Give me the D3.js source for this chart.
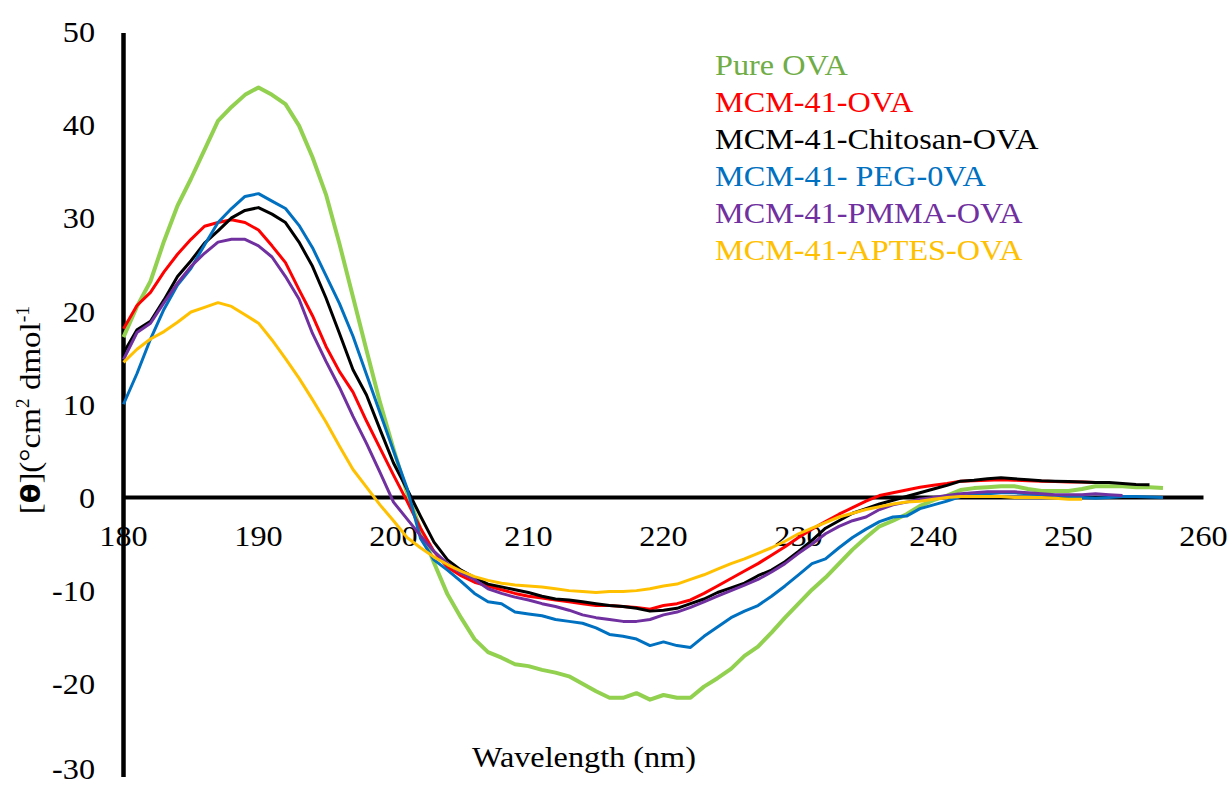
<!DOCTYPE html>
<html>
<head>
<meta charset="utf-8">
<script src="https://d3js.org/d3.v7.min.js"></script>
<style>
  body { margin: 0; background: #fff; }
  text { font-family: "Liberation Serif", "Times New Roman", serif; }
</style>
</head>
<body>
<div id="vis"></div>
<script>
var width = 1232,
    height = 787;

// wavelength in nm, 1 nm steps
var wavelengths = d3.range(180, 258);

var seriesNames = ["Pure OVA", "MCM-41-OVA", "MCM-41-Chitosan-OVA", "MCM-41- PEG-0VA", "MCM-41-PMMA-OVA", "MCM-41-APTES-OVA"];

var pureOVA = [17.2, 20.5, 23.2, 27.5, 31.3, 34.2, 37.3, 40.4, 41.9, 43.2, 44.0, 43.2, 42.2, 39.9, 36.5, 32.5, 27.2, 21.5, 15.8, 10.2,
  5.2, 0.5, -3.4, -7.0, -10.4, -12.9, -15.2, -16.6, -17.2, -17.9, -18.1, -18.5, -18.8, -19.2, -20.0, -20.8, -21.5, -21.5, -21.0, -21.7,
  -21.2, -21.5, -21.5, -20.3, -19.4, -18.4, -17.0, -16.0, -14.5, -12.9, -11.4, -9.9, -8.6, -7.1, -5.6, -4.3, -3.1, -2.5, -1.8, -0.9,
  -0.3, 0.2, 0.8, 1.0, 1.1, 1.2, 1.2, 0.9, 0.7, 0.7, 0.7, 0.9, 1.2, 1.2, 1.2, 1.1, 1.1, 1.0];

var mcmOVA = [18.1, 20.6, 22.0, 24.2, 26.1, 27.7, 29.1, 29.5, 29.8, 29.5, 28.7, 27.0, 25.2, 22.3, 19.5, 16.2, 13.5, 11.3, 8.2, 5.3,
  2.4, -0.4, -3.3, -5.8, -7.5, -8.4, -9.1, -9.5, -9.9, -10.3, -10.6, -10.8, -11.0, -11.2, -11.4, -11.6, -11.6, -11.7, -11.8, -12.0,
  -11.6, -11.4, -11.0, -10.3, -9.5, -8.7, -7.9, -7.1, -6.2, -5.3, -4.3, -3.4, -2.6, -1.8, -1.1, -0.4, 0.2, 0.5, 0.8, 1.1,
  1.3, 1.5, 1.75, 1.8, 1.85, 1.9, 1.85, 1.8, 1.75, 1.7, 1.65, 1.65, 1.6, 1.6];

var chitosanOVA = [15.5, 18.0, 18.9, 21.2, 23.7, 25.4, 27.3, 28.6, 30.0, 30.8, 31.1, 30.4, 29.5, 27.4, 24.8, 21.4, 17.6, 13.7, 11.0, 7.3,
  3.7, 0.9, -2.0, -4.8, -6.7, -7.8, -8.6, -9.3, -9.6, -9.9, -10.2, -10.6, -10.9, -11.0, -11.2, -11.4, -11.6, -11.7, -11.9, -12.2,
  -12.1, -11.9, -11.4, -10.9, -10.2, -9.7, -9.2, -8.4, -7.8, -6.9, -5.8, -4.6, -3.3, -2.5, -1.7, -1.2, -0.7, -0.3, 0.1, 0.5,
  0.9, 1.3, 1.75, 1.85, 2.0, 2.1, 2.0, 1.9, 1.8, 1.75, 1.7, 1.65, 1.6, 1.6, 1.5, 1.4, 1.35];

var pegOVA = [10.0, 13.3, 17.0, 20.2, 22.8, 24.6, 27.1, 29.5, 31.0, 32.3, 32.6, 31.8, 31.0, 29.2, 26.8, 23.8, 20.8, 17.3, 13.2, 9.1,
  5.0, 1.0, -4.4, -6.7, -7.8, -9.0, -10.3, -11.2, -11.4, -12.3, -12.5, -12.7, -13.1, -13.3, -13.5, -14.0, -14.7, -14.9, -15.2, -15.9,
  -15.5, -15.9, -16.1, -14.9, -13.9, -12.9, -12.2, -11.6, -10.6, -9.5, -8.3, -7.1, -6.6, -5.4, -4.3, -3.4, -2.6, -2.1, -2.0, -1.2,
  -0.8, -0.4, 0.1, 0.3, 0.4, 0.5, 0.5, 0.4, 0.3, 0.2, 0.1, 0.0, -0.1, 0.0, 0.1, 0.1, 0.05, 0.0];

var pmmaOVA = [14.8, 17.7, 18.7, 20.9, 23.0, 24.8, 26.2, 27.4, 27.7, 27.7, 27.0, 25.8, 23.7, 21.3, 17.6, 14.6, 11.8, 8.7, 5.8, 2.7,
  -0.5, -2.3, -4.1, -5.8, -7.1, -8.1, -8.8, -9.8, -10.3, -10.7, -11.0, -11.4, -11.7, -12.1, -12.6, -12.9, -13.1, -13.3, -13.3, -13.1,
  -12.6, -12.3, -11.8, -11.2, -10.6, -10.0, -9.4, -8.8, -8.0, -7.1, -6.0, -5.0, -3.9, -3.1, -2.5, -2.1, -1.3, -0.8, -0.5, -0.2,
  0.0, 0.2, 0.4, 0.5, 0.6, 0.6, 0.6, 0.5, 0.4, 0.3, 0.3, 0.3, 0.4, 0.3, 0.2];

var aptesOVA = [14.5, 15.9, 17.0, 17.8, 18.8, 19.9, 20.4, 20.9, 20.5, 19.6, 18.7, 16.9, 14.9, 12.8, 10.5, 8.1, 5.5, 3.0, 1.1, -0.8,
  -2.5, -4.3, -5.4, -6.4, -7.2, -7.9, -8.5, -8.9, -9.2, -9.4, -9.5, -9.6, -9.8, -10.0, -10.1, -10.2, -10.1, -10.1, -10.0, -9.8,
  -9.5, -9.3, -8.8, -8.3, -7.7, -7.1, -6.6, -6.0, -5.4, -4.7, -3.9, -3.3, -2.7, -2.1, -1.7, -1.3, -1.0, -0.7, -0.5, -0.4,
  -0.2, 0.0, 0.1, 0.1, 0.1, 0.1, 0.0, 0.0, 0.0, -0.1, -0.2, -0.2];

var lineColors = ["#92D050", "#FF0000", "#000000", "#0070C0", "#7030A0", "#FFC000"];
var textColors = ["#70AD47", "#FF0000", "#000000", "#0070C0", "#7030A0", "#FFC000"];

var xTicks = [180, 190, 200, 210, 220, 230, 240, 250, 260];
var yTicks = [-30, -20, -10, 0, 10, 20, 30, 40, 50];

var allSeries = [pureOVA, mcmOVA, chitosanOVA, pegOVA, pmmaOVA, aptesOVA];

// the text in the original looks a bit wider than plain Times
var stretch = 1.075;

var svg = d3.select("#vis").append("svg")
    .attr("width", width)
    .attr("height", height);

var x = d3.scaleLinear().domain([180, 260]).range([123.5, 1203.5]);
var y = d3.scaleLinear().domain([-30, 50]).range([777, 31.5]);

//----------AXES---------//
svg.append("line")
    .attr("x1", x(180)).attr("x2", x(180))
    .attr("y1", y(-30)).attr("y2", y(50) + 1.5)
    .style("stroke", "black")
    .style("stroke-width", 4.5);

svg.append("line")
    .attr("x1", x(180)).attr("x2", x(260))
    .attr("y1", y(0)).attr("y2", y(0))
    .style("stroke", "black")
    .style("stroke-width", 4);

// bottom label sits right at the edge, keep it inside
svg.selectAll(".ylab")
    .data(yTicks)
    .enter()
    .append("text")
    .attr("class", "ylab")
    .attr("transform", function(d) {
        return "translate(95," + Math.min(y(d) + 10.5, 779) + ") scale(" + stretch + ",1)";
    })
    .style("text-anchor", "end")
    .style("font-size", "30px")
    .text(function(d) { return d; });

svg.selectAll(".xlab")
    .data(xTicks)
    .enter()
    .append("text")
    .attr("class", "xlab")
    .attr("transform", function(d) { return "translate(" + x(d) + ",546) scale(" + stretch + ",1)"; })
    .style("text-anchor", "middle")
    .style("font-size", "30px")
    .text(function(d) { return d; });

svg.append("text")
    .attr("transform", "translate(584,767) scale(" + stretch + ",1)")
    .style("text-anchor", "middle")
    .style("font-size", "30px")
    .text("Wavelength (nm)");

// y title: [θ](°cm² dmol⁻¹
var ytitle = svg.append("text")
    .attr("transform", "translate(40,410) rotate(-90) scale(1.1,1)")
    .style("text-anchor", "middle")
    .style("font-size", "30px");
ytitle.append("tspan").text("[");
ytitle.append("tspan").style("font-weight", "bold").style("font-family", "DejaVu Sans").style("font-size", "26px").text("θ");
ytitle.append("tspan").text("](°cm");
ytitle.append("tspan").attr("dy", -11).style("font-size", "18px").text("2");
ytitle.append("tspan").attr("dy", 11).text(" dmol");
ytitle.append("tspan").attr("dy", -11).style("font-size", "18px").text("-1");

//----------LINES---------//
var line = d3.line()
    .x(function(d) { return x(d[0]); })
    .y(function(d) { return y(d[1]); });

allSeries.forEach(function(vals, i) {
    var pts = vals.map(function(v, j) { return [wavelengths[j], v]; });
    svg.append("path")
        .datum(pts)
        .attr("d", line)
        .style("fill", "none")
        .style("stroke", lineColors[i])
        .style("stroke-width", i === 0 ? 4 : 3)
        .style("stroke-linejoin", "round");
});

//----------LEGEND---------//
svg.selectAll(".legtext")
    .data(seriesNames)
    .enter()
    .append("text")
    .attr("class", "legtext")
    .attr("transform", function(d, i) { return "translate(715," + (75 + i * 36.9) + ") scale(" + stretch + ",1)"; })
    .style("font-size", "30px")
    .style("fill", function(d, i) { return textColors[i]; })
    .text(function(d) { return d; });
</script>
</body>
</html>
